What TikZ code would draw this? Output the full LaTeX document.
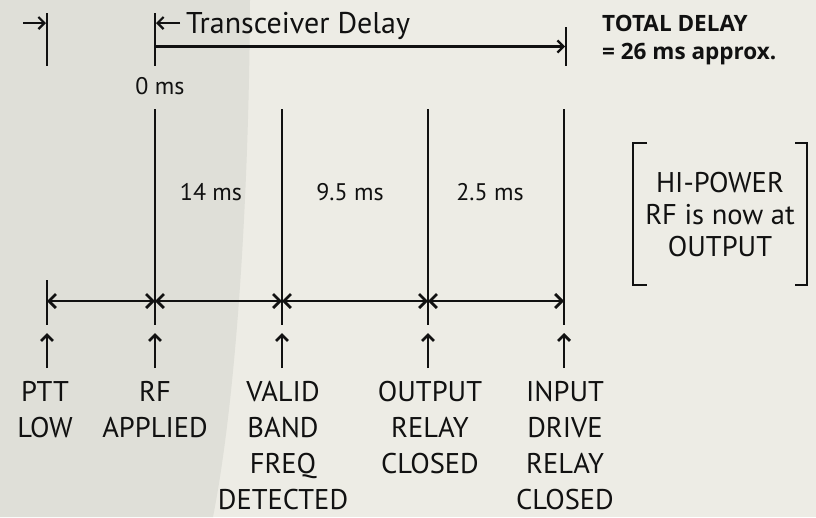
\documentclass[tikz,border=0pt]{standalone}
\usepackage{fontspec}
\setmainfont{PT Sans}
\newfontfamily\totfont{Open Sans}
\usetikzlibrary{arrows.meta}
\definecolor{bgdark}{HTML}{DFDFD8}
\definecolor{bglight}{HTML}{EDECE5}
\definecolor{ink}{HTML}{111111}
\begin{document}
\begin{tikzpicture}[x=1pt,y=-1pt,
  ln/.style={line width=2.7pt, draw=ink},
  tln/.style={line width=2.2pt, draw=ink},
  dbarb/.style={{Straight Barb[length=7pt,width=14pt]}-{Straight Barb[length=7pt,width=14pt]}},
  sbarb/.style={-{Straight Barb[length=6pt,width=12pt]}},
  lab/.style={inner sep=0pt, text=ink, align=center, anchor=base, text depth=0pt, font=\fontsize{28.5}{36}\selectfont},
  ms/.style={inner sep=0pt, text=ink, anchor=base, font=\fontsize{24}{28}\selectfont},
  tot/.style={inner sep=0pt, text=ink, anchor=base west, font=\totfont\fontsize{22.5}{26}\selectfont\bfseries},
]
\fill[bglight] (0,0) rectangle (816,517);
\fill[bgdark] (0,0) -- (250,0) .. controls (249,200) and (236,400) .. (213,517) -- (0,517) -- cycle;
\useasboundingbox (0,0) rectangle (816,517);

% top section
\coordinate (pt1) at (47,13); \coordinate (pt2) at (47,66);
\coordinate (rt1) at (155,13); \coordinate (rt2) at (155,66);
\coordinate (nt1) at (566,27); \coordinate (nt2) at (566,66);
\draw[tln] (pt1) -- (pt2);
\draw[tln] (rt1) -- (rt2);
\draw[tln] (nt1) -- (nt2);
\coordinate (pa1) at (23,23); \coordinate (pa2) at (46,23);
\draw[tln,sbarb] (pa1) -- (pa2);
\coordinate (ra1) at (180,23); \coordinate (ra2) at (156,23);
\draw[tln,sbarb] (ra1) -- (ra2);
\coordinate (h1) at (155,46.5); \coordinate (h2) at (565,46.5);
\draw[tln,sbarb] (h1) -- (h2);
\node[inner sep=0pt, text=ink, anchor=base west, font=\fontsize{30}{34}\selectfont] (tdelay) at (186,33) {Transceiver Delay};
\node[tot] (tot1) at (602,31) {TOTAL DELAY};
\node[tot] (tot2) at (602,59) {= 26 ms approx.};
\node[ms] (zero) at (160,94) {0 ms};

% vertical lines
\foreach \n/\x in {r/155,v/282,o/428,n/564}{
  \coordinate (\n-top) at (\x,109);
  \coordinate (\n-bot) at (\x,325);
  \draw[ln] (\n-top) -- (\n-bot);
}
\coordinate (p-top) at (47,280); \coordinate (p-bot) at (47,325);
\draw[ln] (p-top) -- (p-bot);

% horizontal timeline and up arrows
\foreach \n/\x in {p/47,r/155,v/282,o/428,n/564}{
  \coordinate (\n-h) at (\x,301);
  \coordinate (\n-ua) at (\x,368);
  \coordinate (\n-ub) at (\x,333);
  \draw[ln,sbarb] (\n-ua) -- (\n-ub);
}
\draw[ln,dbarb] (p-h) -- (r-h);
\draw[ln,dbarb] (r-h) -- (v-h);
\draw[ln,dbarb] (v-h) -- (o-h);
\draw[ln,dbarb] (o-h) -- (n-h);

% delay labels
\node[ms] (d1) at (211,200) {14 ms};
\node[ms] (d2) at (350,200) {9.5 ms};
\node[ms] (d3) at (490,200) {2.5 ms};

% bottom labels (anchor = baseline of last line)
\node[lab] (lp) at (45,437) {PTT\\LOW};
\node[lab] (lr) at (155,437) {RF\\APPLIED};
\node[lab] (lv) at (283,509) {VALID\\BAND\\FREQ\\DETECTED};
\node[lab] (lo) at (430,473) {OUTPUT\\RELAY\\CLOSED};
\node[lab] (lin) at (565,509) {INPUT\\DRIVE\\RELAY\\CLOSED};

% bracket note
\coordinate (bl1) at (647,143); \coordinate (bl2) at (633,143);
\coordinate (bl3) at (633,285); \coordinate (bl4) at (647,285);
\coordinate (br1) at (795,143); \coordinate (br2) at (807,143);
\coordinate (br3) at (807,285); \coordinate (br4) at (795,285);
\draw[tln] (bl1) -- (bl2) -- (bl3) -- (bl4);
\draw[tln] (br1) -- (br2) -- (br3) -- (br4);
\node[lab, font=\fontsize{28.5}{32}\selectfont] (note) at (720,256) {HI-POWER\\RF is now at\\OUTPUT};
\end{tikzpicture}
\end{document}
